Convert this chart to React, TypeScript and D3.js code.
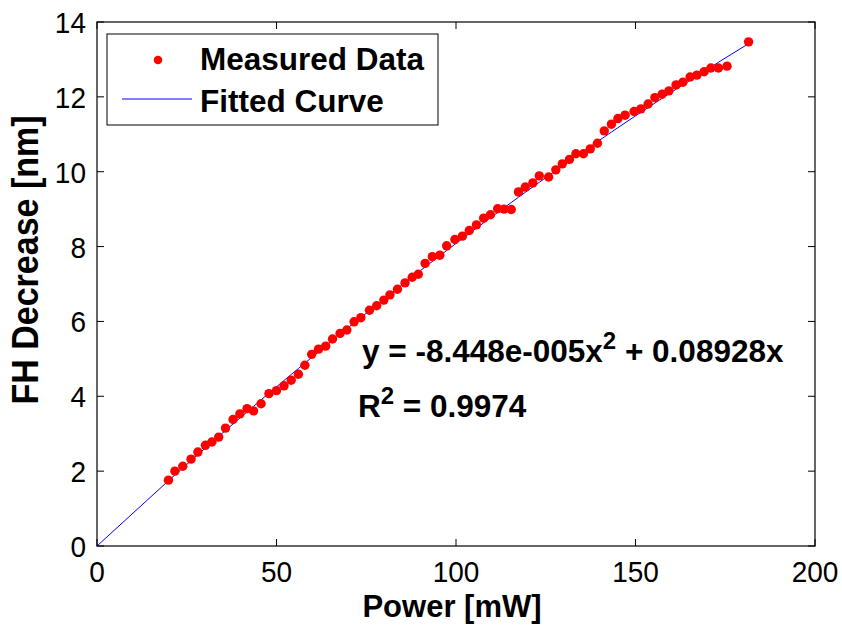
import React from "react";
import * as d3 from "d3";

const powerMW = [
  19.9, 21.7, 23.9, 26.2, 28.1, 30.2, 32.0, 33.9, 35.8, 37.9, 39.8, 41.8, 43.6, 45.7, 47.9,
  50.0, 52.1, 54.1, 56.1, 57.9, 59.8, 61.7, 63.7, 65.6, 67.7, 69.6, 71.6, 73.5, 75.9, 77.9,
  79.9, 81.6, 83.7, 85.8, 87.8, 89.5, 91.4, 93.4, 95.5, 97.4, 99.7, 101.8, 103.7, 105.7,
  107.7, 109.6, 111.6, 113.4, 115.4, 117.4, 119.3, 121.4, 123.2, 125.8, 127.8, 129.6, 131.6,
  133.4, 135.5, 137.4, 139.4, 141.3, 143.3, 145.1, 147.1, 149.6, 151.5, 153.5, 155.4, 157.4,
  159.3, 161.3, 163.2, 165.2, 167.1, 169.1, 171.0, 173.1, 175.5, 181.5,
];
const fhDecrease = [
  1.76, 2.0, 2.13, 2.32, 2.51, 2.69, 2.78, 2.91, 3.15, 3.38, 3.53, 3.67, 3.61, 3.8, 4.07,
  4.15, 4.28, 4.43, 4.59, 4.83, 5.12, 5.26, 5.34, 5.53, 5.68, 5.77, 5.99, 6.1, 6.3, 6.42,
  6.57, 6.71, 6.86, 7.03, 7.18, 7.26, 7.55, 7.73, 7.77, 8.02, 8.19, 8.28, 8.43, 8.58,
  8.76, 8.85, 9.01, 9.0, 8.99, 9.46, 9.59, 9.7, 9.89, 9.86, 10.05, 10.21, 10.33,
  10.48, 10.48, 10.61, 10.76, 11.09, 11.27, 11.42, 11.51, 11.61, 11.68, 11.81, 11.98, 12.07,
  12.16, 12.32, 12.39, 12.53, 12.58, 12.67, 12.77, 12.77, 12.82, 13.47,
];
// fitted polynomial y = a*x^2 + b*x
const fitCoefficients = [-8.448e-5, 0.08928];
const xTicks = [0, 50, 100, 150, 200];
const yTicks = [0, 2, 4, 6, 8, 10, 12, 14];
const legendLabels = ["Measured Data", "Fitted Curve"];
const xLabel = "Power [mW]";
const yLabel = "FH Decrease [nm]";

export default function App() {
  const left = 97, right = 815, top = 22, bottom = 546;
  const x = d3.scaleLinear().domain([0, 200]).range([left, right]);
  const y = d3.scaleLinear().domain([0, 14]).range([bottom, top]);
  const fitX = [0, ...powerMW];
  const fitLine = d3
    .line<number>()
    .x((d) => x(d))
    .y((d) => y(fitCoefficients[0] * d * d + fitCoefficients[1] * d));
  const tickLen = 7;
  const font = "'Liberation Sans', Arial, Helvetica, sans-serif";

  return (
    <div style={{ position: "fixed", left: 0, top: 0 }}>
      <svg width={842} height={625} style={{ display: "block", background: "#fff" }} fontFamily={font}>
        <rect x={0} y={0} width={842} height={625} fill="#fff" />
        {/* ticks */}
        {xTicks.map((t) => (
          <g key={"xt" + t}>
            <line x1={x(t)} x2={x(t)} y1={bottom} y2={bottom - tickLen} stroke="#000" strokeWidth={1} />
            <line x1={x(t)} x2={x(t)} y1={top} y2={top + tickLen} stroke="#000" strokeWidth={1} />
            <text transform={`translate(${x(t)}, 582) scale(1, 1.08)`} fontSize={28} textAnchor="middle" fill="#000">
              {t}
            </text>
          </g>
        ))}
        {yTicks.map((t) => (
          <g key={"yt" + t}>
            <line x1={left} x2={left + tickLen} y1={y(t)} y2={y(t)} stroke="#000" strokeWidth={1} />
            <line x1={right} x2={right - tickLen} y1={y(t)} y2={y(t)} stroke="#000" strokeWidth={1} />
            <text transform={`translate(86, ${y(t) + 11}) scale(1, 1.08)`} fontSize={28} textAnchor="end" fill="#000">
              {t}
            </text>
          </g>
        ))}
        {/* fitted curve */}
        <path d={fitLine(fitX) || ""} fill="none" stroke="#0000ff" strokeWidth={1} />
        {/* data points */}
        {powerMW.map((p, i) => (
          <circle key={i} cx={x(p)} cy={y(fhDecrease[i])} r={4.7} fill="#ff0000" />
        ))}
        {/* axes box */}
        <rect x={left} y={top} width={right - left} height={bottom - top} fill="none" stroke="#000" strokeWidth={1.2} />
        {/* legend */}
        <rect x={107} y={34} width={331} height={91} fill="#fff" stroke="#000" strokeWidth={1} />
        <circle cx={158} cy={60} r={4.3} fill="#ff0000" />
        <line x1={122} x2={192} y1={99} y2={99} stroke="#0000ff" strokeWidth={1} />
        <text x={200} y={70} fontSize={31.5} fontWeight="bold" fill="#000">
          {legendLabels[0]}
        </text>
        <text x={200} y={112} fontSize={31.5} fontWeight="bold" fill="#000">
          {legendLabels[1]}
        </text>
        {/* equation */}
        <text x={362} y={362} fontSize={31.5} fontWeight="bold" fill="#000">
          <tspan>y = -8.448e-005x</tspan>
          <tspan fontSize={24} dy={-13}>2</tspan>
          <tspan dy={13}> + 0.08928x</tspan>
        </text>
        <text x={358} y={417} fontSize={31.5} fontWeight="bold" fill="#000">
          <tspan>R</tspan>
          <tspan fontSize={24} dy={-13}>2</tspan>
          <tspan dy={13}> = 0.9974</tspan>
        </text>
        {/* axis labels */}
        <text x={(left + right) / 2 - 4} y={617} fontSize={31} fontWeight="bold" textAnchor="middle" fill="#000">
          {xLabel}
        </text>
        <text
          transform={`translate(38, ${(top + bottom) / 2 - 24}) rotate(-90) scale(1, 1.1)`}
          fontSize={34}
          fontWeight="bold"
          textAnchor="middle"
          fill="#000"
        >
          {yLabel}
        </text>
      </svg>
    </div>
  );
}
